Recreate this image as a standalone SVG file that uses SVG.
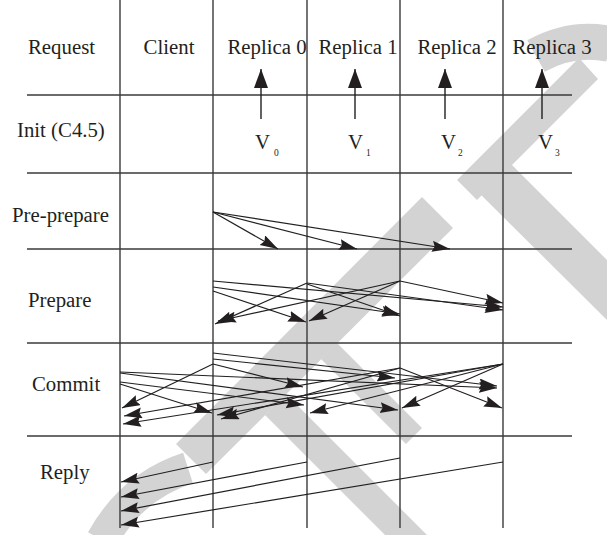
<svg xmlns="http://www.w3.org/2000/svg" width="607" height="535" viewBox="0 0 607 535">
<style>
.g{stroke:#3a3a3a;stroke-width:1.4;fill:none}
.c{stroke:#231f20;stroke-width:1.2;fill:none;marker-end:url(#ah)}
.u{stroke:#231f20;stroke-width:1.4;fill:none;marker-end:url(#au)}
text{font-family:"Liberation Serif","Times New Roman",serif;fill:#231f20}
.t{font-size:20.8px}
.v{font-size:20.8px}
.s{font-size:9.5px}
.wm{fill:#d3d3d3}
.wms{fill:none;stroke:#d3d3d3}
</style>
<defs>
<marker id="ah" markerWidth="19" markerHeight="12" refX="18" refY="5.5" orient="auto" markerUnits="userSpaceOnUse"><path d="M0,0 L18,5.5 L0,11 L2.5,5.5 Z" fill="#231f20"/></marker>
<marker id="au" markerWidth="20" markerHeight="15" refX="19" refY="7" orient="auto" markerUnits="userSpaceOnUse"><path d="M0,0 L19,7 L0,14 Z" fill="#231f20"/></marker>
</defs>
<rect width="607" height="535" fill="#ffffff"/>
<g id="watermark">
<polygon class="wm" points="422,197 453,228 206,474 176,444"/>
<polygon class="wm" points="265,415 286,394 427,535 385,535"/>
<polygon class="wm" points="337,343 422,428 406,444 321,359"/>
<polygon class="wm" points="463,177 494,147 607,260 607,320"/>
<polygon class="wm" points="457,180 477,200 598,79 579,58"/>
<path class="wms" stroke-width="32" d="M188,468 Q132,486 102,540"/>
<path class="wms" stroke-width="36" d="M536,56 Q572,36 610,44"/>
</g>
<g id="grid">
<line class="g" x1="27" y1="95" x2="572" y2="95"/>
<line class="g" x1="27" y1="173" x2="572" y2="173"/>
<line class="g" x1="27" y1="249" x2="572" y2="249"/>
<line class="g" x1="27" y1="343" x2="572" y2="343"/>
<line class="g" x1="27" y1="436" x2="572" y2="436"/>
<line class="g" x1="120" y1="0" x2="120" y2="528"/>
<line class="g" x1="213" y1="0" x2="213" y2="528"/>
<line class="g" x1="307" y1="0" x2="307" y2="528"/>
<line class="g" x1="400" y1="0" x2="400" y2="528"/>
<line class="g" x1="503" y1="0" x2="503" y2="528"/>
</g>
<g id="row-labels">
<text class="t" x="28" y="54">Request</text>
<text class="t" x="17" y="137">Init (C4.5)</text>
<text class="t" x="12" y="222">Pre-prepare</text>
<text class="t" x="28" y="307">Prepare</text>
<text class="t" x="32" y="391">Commit</text>
<text class="t" x="40" y="479">Reply</text>
</g>
<g id="client"><text class="t" x="169" y="54" text-anchor="middle">Client</text></g>
<g id="replica0"><text class="t" x="267" y="54" text-anchor="middle">Replica 0</text></g>
<g id="replica1"><text class="t" x="358" y="54" text-anchor="middle">Replica 1</text></g>
<g id="replica2"><text class="t" x="457" y="54" text-anchor="middle">Replica 2</text></g>
<g id="replica3"><text class="t" x="552" y="54" text-anchor="middle">Replica 3</text></g>
<g id="v0"><text class="v" x="255" y="149">V</text><text class="s" x="274" y="156">0</text></g>
<g id="v1"><text class="v" x="348" y="149">V</text><text class="s" x="366" y="156">1</text></g>
<g id="v2"><text class="v" x="441" y="149">V</text><text class="s" x="458" y="156">2</text></g>
<g id="v3"><text class="v" x="538" y="149">V</text><text class="s" x="555" y="156">3</text></g>
<g id="connectors">
<line class="u" x1="261" y1="119" x2="261" y2="69"/>
<line class="u" x1="355" y1="119" x2="355" y2="69"/>
<line class="u" x1="445" y1="119" x2="445" y2="69"/>
<line class="u" x1="542" y1="119" x2="542" y2="69"/>
<line class="c" x1="213" y1="212" x2="278" y2="249"/>
<line class="c" x1="213" y1="212" x2="357" y2="249"/>
<line class="c" x1="213" y1="212" x2="450" y2="249"/>
<line class="c" x1="213" y1="281" x2="503" y2="307"/>
<line class="c" x1="213" y1="287" x2="400" y2="314"/>
<line class="c" x1="213" y1="291" x2="306" y2="322"/>
<line class="c" x1="307" y1="283" x2="215" y2="324"/>
<line class="c" x1="307" y1="284" x2="400" y2="316"/>
<line class="c" x1="307" y1="283" x2="503" y2="310"/>
<line class="c" x1="400" y1="281" x2="218" y2="321"/>
<line class="c" x1="400" y1="281" x2="309" y2="321"/>
<line class="c" x1="400" y1="281" x2="503" y2="303"/>
<line class="c" x1="120" y1="372" x2="497" y2="388"/>
<line class="c" x1="120" y1="373" x2="398" y2="410"/>
<line class="c" x1="120" y1="382" x2="304" y2="405"/>
<line class="c" x1="120" y1="384" x2="212" y2="413"/>
<line class="c" x1="213" y1="353" x2="497" y2="386"/>
<line class="c" x1="213" y1="359" x2="395" y2="378"/>
<line class="c" x1="213" y1="364" x2="303" y2="387"/>
<line class="c" x1="213" y1="364" x2="122" y2="408"/>
<line class="c" x1="400" y1="368" x2="502" y2="408"/>
<line class="c" x1="400" y1="368" x2="221" y2="419"/>
<line class="c" x1="400" y1="368" x2="124" y2="416"/>
<line class="c" x1="503" y1="364" x2="123" y2="424"/>
<line class="c" x1="503" y1="364" x2="217" y2="415"/>
<line class="c" x1="503" y1="364" x2="310" y2="413"/>
<line class="c" x1="503" y1="364" x2="402" y2="408"/>
<line class="c" x1="213" y1="462" x2="121" y2="482"/>
<line class="c" x1="307" y1="462" x2="121" y2="497"/>
<line class="c" x1="400" y1="458" x2="121" y2="511"/>
<line class="c" x1="503" y1="462" x2="121" y2="525"/>
</g>
</svg>
